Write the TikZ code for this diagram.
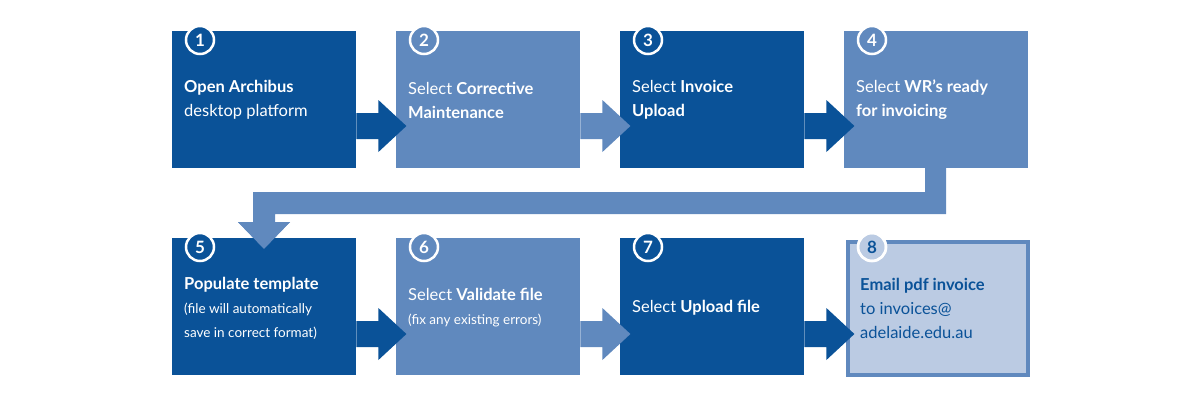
\documentclass[tikz,border=0pt]{standalone}
\usepackage{fontspec}
\setmainfont{Lato}
\begin{document}
\begin{tikzpicture}[x=1pt,y=-1pt,
  dk/.style={fill={rgb,255:red,10;green,82;blue,152}},
  lt/.style={fill={rgb,255:red,96;green,137;blue,190}},
  box/.style={minimum width=184pt,minimum height=137pt,inner sep=0pt,draw=none},
  num/.style={circle,draw=white,line width=2.5pt,minimum size=28pt,inner sep=0pt,text=white,font=\fontsize{17}{17}\selectfont\bfseries},
  txt/.style={anchor=west,align=left,text=white,font=\fontsize{16.5}{24}\selectfont,inner sep=0pt},
  sm/.style={font=\fontsize{13.5}{21}\selectfont}]
\useasboundingbox (0,0) rectangle (1200,400);
\colorlet{dkc}{rgb,255:red,10;green,82;blue,152}
% connector 4 -> 5
\fill[lt] (925,168) -- (946,168) -- (946,214) -- (275,214) -- (275,222) -- (290,222) -- (264,249) -- (238,222) -- (253,222) -- (253,192) -- (925,192) -- cycle;
% boxes
\node[box,dk,anchor=north west] (b1) at (172,31) {};
\node[box,lt,anchor=north west] (b2) at (396,31) {};
\node[box,dk,anchor=north west] (b3) at (620,31) {};
\node[box,lt,anchor=north west] (b4) at (844,31) {};
\node[box,dk,anchor=north west] (b5) at (172,238) {};
\node[box,lt,anchor=north west] (b6) at (396,238) {};
\node[box,dk,anchor=north west] (b7) at (620,238) {};
\node[box,anchor=north west,fill={rgb,255:red,187;green,203;blue,227},draw={rgb,255:red,96;green,137;blue,190},line width=4pt,minimum width=180pt,minimum height=133pt] (b8) at (846,240) {};
% redraw connector head over box 5
\fill[lt] (253,236) -- (253,222) -- (238,222) -- (264,249) -- (290,222) -- (275,222) -- (275,236) -- cycle;
% arrows
\foreach \a/\s/\y in {b1/dk/100,b2/lt/100,b3/dk/100,b5/dk/308,b6/lt/308,b7/dk/308}{
  \fill[\s] ([yshift=-13pt]\a.east |- 0,\y) -- ++(22,0) -- ++(0,-13) -- ++(28,26) -- ++(-28,26) -- ++(0,-13) -- ++(-22,0) -- cycle;
}
% numbers
\node[num,dk] (n1) at (200,40) {1};
\node[num,lt] (n2) at (424,40) {2};
\node[num,dk] (n3) at (648,40) {3};
\node[num,lt] (n4) at (872,40) {4};
\node[num,dk] (n5) at (200,247) {5};
\node[num,lt] (n6) at (424,247) {6};
\node[num,dk] (n7) at (648,247) {7};
\node[num,lt,fill={rgb,255:red,187;green,203;blue,227},draw=white,text=dkc] (n8) at (872,247) {8};
\draw[white,line width=2.5pt] (n8) circle (14pt);
% texts
\node[txt] (t1) at (184,100) {\textbf{Open Archibus}\\desktop platform};
\node[txt] (t2) at (408,100) {Select \textbf{Corrective}\\\textbf{Maintenance}};
\node[txt] (t3) at (632,100) {Select \textbf{Invoice}\\\textbf{Upload}};
\node[txt] (t4) at (856,100) {Select \textbf{WR’s ready}\\\textbf{for invoicing}};
\node[txt] (t5) at (184,308) {\textbf{Populate template}\\{\fontsize{13.5}{21}\selectfont(file will automatically}\\{\fontsize{13.5}{21}\selectfont save in correct format)}};
\node[txt] (t6) at (408,308) {Select \textbf{Validate file}\\{\fontsize{13.5}{21}\selectfont(fix any existing errors)}};
\node[txt] (t7) at (632,308) {Select \textbf{Upload file}};
\node[txt,text=dkc] (t8) at (860,308) {\textbf{Email pdf invoice}\\to invoices@\\adelaide.edu.au};
\end{tikzpicture}
\end{document}
